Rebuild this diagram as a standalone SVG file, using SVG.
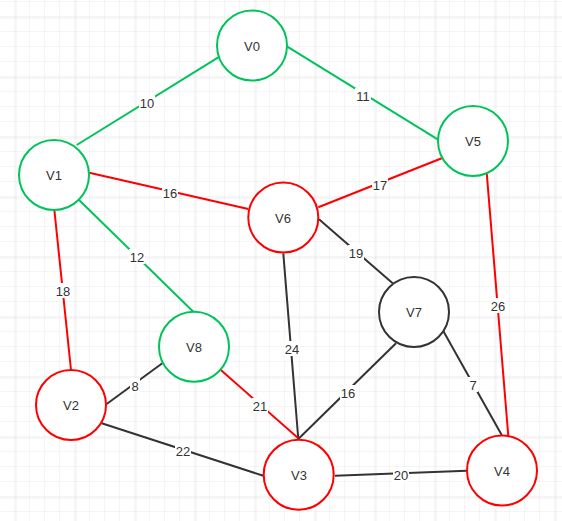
<svg xmlns="http://www.w3.org/2000/svg" width="562" height="521" viewBox="0 0 562 521">
<defs>
<pattern id="minor" width="15" height="15" patternUnits="userSpaceOnUse" x="0" y="2">
<path d="M15 0V15M0 15H15" fill="none" stroke="#ebebeb" stroke-width="1"/>
</pattern>
<pattern id="major" width="60" height="60" patternUnits="userSpaceOnUse" x="15.5" y="17.5">
<path d="M0 0V60M0 0H60" fill="none" stroke="#dddddd" stroke-width="1"/>
</pattern>
<style>
.n{fill:#fff;stroke-width:2}
.g{stroke:#00c45a}
.r{stroke:#ff0000}
.k{stroke:#333}
.e{fill:none;stroke-width:2}
text{font-family:"Liberation Sans",Arial,sans-serif;font-size:13px;fill:#333;text-anchor:middle;dominant-baseline:central}
.lb{fill:#fff}
</style>
</defs>
<rect width="562" height="521" fill="#fff"/>
<rect width="562" height="521" fill="url(#minor)"/>
<rect width="562" height="521" fill="url(#major)"/>
<g id="edges">
<path class="e g" d="M76.7 145L218.3 57.3"/>
<path class="e g" d="M287.3 46.7L437.7 139.3"/>
<path class="e r" d="M89.3 172.7L248.3 209"/>
<path class="e r" d="M318.3 207.3L441.7 158.3"/>
<path class="e g" d="M78.3 199.3L193.3 311.7"/>
<path class="e r" d="M54.3 209.3L71 370"/>
<path class="e k" d="M319 219.3L392.7 283.3"/>
<path class="e r" d="M486.7 172.7L508.3 436"/>
<path class="e k" d="M283.3 253.3L298.3 439"/>
<path class="e k" d="M396 343.3L298.3 439"/>
<path class="e k" d="M442.7 330L501.7 435"/>
<path class="e k" d="M162.3 363.3L106.7 404"/>
<path class="e r" d="M220 369.3L298.3 438.3"/>
<path class="e k" d="M101.7 423.3L263.3 475.7"/>
<path class="e k" d="M335 475.7L466.7 470.7"/>
<g id="labels">
<rect class="lb" x="139" y="95" width="16" height="15"/><text x="147" y="103">10</text>
<rect class="lb" x="355" y="88" width="16" height="15"/><text x="363" y="96">11</text>
<rect class="lb" x="162" y="185" width="16" height="15"/><text x="170" y="193">16</text>
<rect class="lb" x="129" y="249" width="16" height="15"/><text x="137" y="257">12</text>
<rect class="lb" x="372" y="177" width="16" height="15"/><text x="380" y="185">17</text>
<rect class="lb" x="348" y="245" width="16" height="15"/><text x="356" y="253">19</text>
<rect class="lb" x="55" y="283" width="16" height="15"/><text x="63" y="291">18</text>
<rect class="lb" x="490" y="298" width="16" height="15"/><text x="498" y="306">26</text>
<rect class="lb" x="284" y="341" width="16" height="15"/><text x="292" y="349">24</text>
<rect class="lb" x="340" y="385" width="16" height="15"/><text x="348" y="393">16</text>
<rect class="lb" x="252" y="398" width="16" height="15"/><text x="260" y="406">21</text>
<rect class="lb" x="130" y="378" width="10" height="15"/><text x="135" y="386">8</text>
<rect class="lb" x="175" y="443" width="16" height="15"/><text x="183" y="451">22</text>
<rect class="lb" x="468" y="377" width="10" height="15"/><text x="473" y="385">7</text>
<rect class="lb" x="393" y="467" width="16" height="15"/><text x="401" y="475">20</text>
</g>
</g>
<g id="V0"><circle class="n g" cx="252" cy="45.5" r="35"/><text x="252" y="46">V0</text></g>
<g id="V1"><circle class="n g" cx="54" cy="175" r="35"/><text x="54" y="175">V1</text></g>
<g id="V2"><circle class="n r" cx="71" cy="405" r="35"/><text x="71" y="405">V2</text></g>
<g id="V3"><circle class="n r" cx="298.7" cy="474.7" r="35"/><text x="299" y="475">V3</text></g>
<g id="V4"><circle class="n r" cx="502" cy="470.5" r="35"/><text x="502" y="471">V4</text></g>
<g id="V5"><circle class="n g" cx="473" cy="141" r="35"/><text x="473" y="141">V5</text></g>
<g id="V6"><circle class="n r" cx="283.3" cy="217.5" r="35"/><text x="283" y="218">V6</text></g>
<g id="V7"><circle class="n k" cx="414" cy="312" r="35"/><text x="414" y="312">V7</text></g>
<g id="V8"><circle class="n g" cx="194" cy="346.7" r="35"/><text x="194" y="347">V8</text></g>
</svg>
